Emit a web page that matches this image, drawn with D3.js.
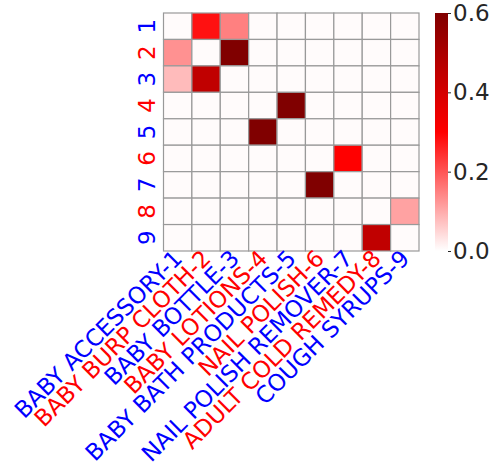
<!DOCTYPE html>
<html>
<head>
<meta charset="utf-8">
<script src="https://cdn.jsdelivr.net/npm/d3@7"></script>
<style>
  html, body { margin: 0; padding: 0; background: #ffffff; }
  svg text { font-family: "DejaVu Sans", sans-serif; }
</style>
</head>
<body>
<svg id="chart" width="495" height="464"></svg>
<script>
// Category names (x axis) and row ids (y axis)
const categories = [
  "BABY ACCESSORY-1", "BABY BURP CLOTH-2", "BABY BOTTLE-3", "BABY LOTIONS-4",
  "BABY BATH PRODUCTS-5", "NAIL POLISH-6", "NAIL POLISH REMOVER-7",
  "ADULT COLD REMEDY-8", "COUGH SYRUPS-9"
];
const rowLabels = ["1", "2", "3", "4", "5", "6", "7", "8", "9"];
const labelColors = ["blue", "red", "blue", "red", "blue", "red", "blue", "red", "blue"];

// Association matrix: rows 1..9, columns 1..9
const matrix = [
  [0.005, 0.28, 0.15, 0.005, 0.005, 0.005, 0.005, 0.005, 0.005],
  [0.13, 0.005, 0.60, 0.005, 0.005, 0.005, 0.005, 0.005, 0.005],
  [0.08, 0.45, 0.005, 0.005, 0.005, 0.005, 0.005, 0.005, 0.005],
  [0.005, 0.005, 0.005, 0.005, 0.60, 0.005, 0.005, 0.005, 0.005],
  [0.005, 0.005, 0.005, 0.60, 0.005, 0.005, 0.005, 0.005, 0.005],
  [0.005, 0.005, 0.005, 0.005, 0.005, 0.005, 0.30, 0.005, 0.005],
  [0.005, 0.005, 0.005, 0.005, 0.005, 0.60, 0.005, 0.005, 0.005],
  [0.005, 0.005, 0.005, 0.005, 0.005, 0.005, 0.005, 0.005, 0.11],
  [0.005, 0.005, 0.005, 0.005, 0.005, 0.005, 0.005, 0.45, 0.005]
];
const colorTicks = [0.0, 0.2, 0.4, 0.6];
const colorDomain = [0, 0.3, 0.6];
const colorRange = ["#ffffff", "#ff0000", "#800000"];

const svg = d3.select("#chart");
const grid = { left: 163.5, right: 419, top: 13, bottom: 251 };
const fontSize = 23;

const x = d3.scaleBand().domain(d3.range(categories.length))
  .range([grid.left, grid.right]).padding(0);
const y = d3.scaleBand().domain(d3.range(rowLabels.length))
  .range([grid.top, grid.bottom]).padding(0);
const color = d3.scaleLinear().domain(colorDomain).range(colorRange).clamp(true);

const cells = [];
matrix.forEach((row, i) => row.forEach((v, j) => cells.push({ i, j, v })));

svg.append("g").selectAll("rect").data(cells).join("rect")
  .attr("x", d => x(d.j))
  .attr("y", d => y(d.i))
  .attr("width", x.bandwidth())
  .attr("height", y.bandwidth())
  .attr("fill", d => color(d.v))
  .attr("stroke", "#999999")
  .attr("stroke-width", 1.2);

// Row labels, rotated to read upward
svg.append("g").selectAll("text").data(rowLabels).join("text")
  .attr("transform", (d, i) => `translate(155,${y(i) + y.bandwidth() / 2}) rotate(-90)`)
  .attr("text-anchor", "middle")
  .attr("font-size", fontSize)
  .attr("fill", (d, i) => labelColors[i])
  .text(d => d);

// Column labels, rotated 45 degrees
svg.append("g").selectAll("text").data(categories).join("text")
  .attr("transform", (d, i) => `translate(${x(i) + x.bandwidth() / 2 - 7},${grid.bottom - 4}) rotate(-45)`)
  .attr("text-anchor", "end")
  .attr("dy", "0.8em")
  .attr("font-size", fontSize)
  .attr("fill", (d, i) => labelColors[i])
  .text(d => d);

// Colour bar
const cb = { x: 435, w: 13, top: 13, bottom: 251 };
const defs = svg.append("defs");
const grad = defs.append("linearGradient").attr("id", "cbar")
  .attr("x1", 0).attr("y1", 1).attr("x2", 0).attr("y2", 0);
d3.range(0, 1.0001, 0.05).forEach(t => {
  grad.append("stop").attr("offset", t).attr("stop-color", color(t * 0.6));
});
svg.append("rect").attr("x", cb.x).attr("y", cb.top)
  .attr("width", cb.w).attr("height", cb.bottom - cb.top)
  .attr("fill", "url(#cbar)");

const cbScale = d3.scaleLinear().domain([0, 0.6]).range([cb.bottom, cb.top]);
const cbAxis = d3.axisRight(cbScale).tickValues(colorTicks)
  .tickFormat(d3.format(".1f")).tickSize(3).tickPadding(2);
const cbG = svg.append("g").attr("transform", `translate(${cb.x + cb.w},0)`).call(cbAxis);
cbG.select(".domain").remove();
cbG.selectAll(".tick line").attr("stroke", "#262626");
cbG.selectAll(".tick text").attr("fill", "#262626").attr("font-size", fontSize)
  .attr("font-family", "DejaVu Sans, sans-serif");
</script>
</body>
</html>
